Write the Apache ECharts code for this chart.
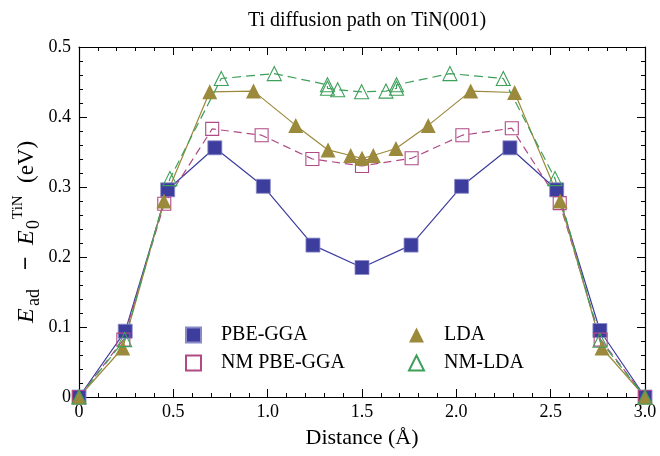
<!DOCTYPE html>
<html>
<head>
<meta charset="utf-8">
<script src="https://cdn.jsdelivr.net/npm/echarts@6/dist/echarts.min.js"></script>
<style>
  html, body { margin: 0; padding: 0; background: #fff; }
  #chart { width: 660px; height: 456px; }
</style>
</head>
<body>
<div id="chart"></div>
<script>
// values
const pbeX = [0, 0.245, 0.47, 0.72, 0.977, 1.24, 1.5, 1.76, 2.028, 2.284, 2.532, 2.761, 3.0];
const pbeY = [0, 0.094, 0.296, 0.356, 0.301, 0.217, 0.185, 0.217, 0.301, 0.356, 0.296, 0.095, 0];

const nmPbeX = [0, 0.235, 0.452, 0.706, 0.968, 1.237, 1.5, 1.763, 2.032, 2.294, 2.548, 2.765, 3.0];
const nmPbeY = [0, 0.082, 0.276, 0.383, 0.374, 0.340, 0.330, 0.341, 0.374, 0.384, 0.277, 0.082, 0];

const ldaX = [0, 0.232, 0.45, 0.693, 0.925, 1.149, 1.32, 1.44, 1.5, 1.56, 1.68, 1.851, 2.076, 2.309, 2.55, 2.772, 3.0];
const ldaY = [0, 0.070, 0.280, 0.436, 0.437, 0.388, 0.353, 0.345, 0.341, 0.345, 0.355, 0.388, 0.437, 0.435, 0.280, 0.070, 0];

const nmLdaX = [0, 0.242, 0.482, 0.754, 1.035, 1.317, 1.317, 1.371, 1.498, 1.627, 1.683, 1.683, 1.966, 2.249, 2.523, 2.761, 3.0];
const nmLdaY = [0, 0.082, 0.312, 0.455, 0.462, 0.446, 0.441, 0.439, 0.436, 0.437, 0.441, 0.446, 0.462, 0.455, 0.312, 0.081, 0];

const xTicks = { min: 0, max: 3, interval: 0.5 };
const yTicks = { min: 0, max: 0.5, interval: 0.1 };

const FONT = '"Liberation Serif", "DejaVu Serif", serif';
const BLUE = '#3d3d9e';
const MAGENTA = '#b04a85';
const OLIVE = '#9c8a3c';
const GREEN = '#3e9f5a';

const pairs = (xs, ys) => xs.map((x, i) => [x, ys[i]]);
const tickFmt = v => (v === 0 ? '0' : v.toFixed(1));

const chart = echarts.init(document.getElementById('chart'));

function axisCommon(extra) {
    return Object.assign({
        type: 'value',
        splitLine: { show: false },
        axisLine: { show: true, onZero: false, lineStyle: { color: '#000', width: 1.2 } },
        axisTick: { show: true, inside: true, length: 8, lineStyle: { color: '#000', width: 1 } },
        minorTick: { show: true, splitNumber: 5, length: 4, lineStyle: { color: '#000', width: 1 } },
        axisLabel: { show: false }
    }, extra);
}

const labelStyle = { color: '#000', fontFamily: FONT, fontSize: 18, formatter: tickFmt };
const legendText = { fontFamily: FONT, fontSize: 20, color: '#000', padding: [0, 0, 0, 15] };

const option = {
    animation: false,
    backgroundColor: '#fff',
    title: {
        text: 'Ti diffusion path on TiN(001)',
        left: 362,
        textAlign: 'center',
        top: 6,
        textStyle: { fontFamily: FONT, fontSize: 20, fontWeight: 'normal', color: '#000' }
    },
    grid: { left: 79, right: 15, top: 47, bottom: 59, containLabel: false },
    legend: [
        {
            data: [{ name: 'PBE-GGA', icon: 'rect' }, { name: 'NM PBE-GGA', icon: 'rect' }],
            orient: 'vertical', left: 185, top: 325, padding: 0,
            itemWidth: 15, itemHeight: 15, itemGap: 8, selectedMode: false,
            textStyle: legendText
        },
        {
            data: [{ name: 'LDA', icon: 'triangle' }, { name: 'NM-LDA', icon: 'triangle' }],
            orient: 'vertical', left: 408, top: 325, padding: 0,
            itemWidth: 15, itemHeight: 15, itemGap: 8, selectedMode: false,
            textStyle: legendText
        }
    ],
    xAxis: [
        axisCommon(Object.assign({}, xTicks, {
            position: 'bottom',
            axisLabel: Object.assign({ show: true, margin: 6 }, labelStyle),
            name: 'Distance (Å)',
            nameLocation: 'middle',
            nameGap: 30,
            nameTextStyle: { fontFamily: FONT, fontSize: 22, color: '#000' }
        })),
        axisCommon(Object.assign({}, xTicks, { position: 'top' }))
    ],
    yAxis: [
        axisCommon(Object.assign({}, yTicks, {
            position: 'left',
            axisLabel: Object.assign({ show: true, margin: 8 }, labelStyle)
        })),
        axisCommon(Object.assign({}, yTicks, { position: 'right' }))
    ],
    graphic: [{
        type: 'group',
        x: 27, y: 323,
        rotation: Math.PI / 2,
        children: [
            { type: 'text', style: { text: 'E', x: 0, y: 0, font: 'italic 24px ' + FONT, fill: '#000', verticalAlign: 'middle' } },
            { type: 'text', style: { text: 'ad', x: 17, y: 7, font: '18px ' + FONT, fill: '#000', verticalAlign: 'middle' } },
            { type: 'text', style: { text: '\u2212', x: 53, y: 0, font: 'bold 24px ' + FONT, fill: '#000', verticalAlign: 'middle' } },
            { type: 'text', style: { text: 'E', x: 78, y: 0, font: 'italic 24px ' + FONT, fill: '#000', verticalAlign: 'middle' } },
            { type: 'text', style: { text: '0', x: 94, y: 7, font: '18px ' + FONT, fill: '#000', verticalAlign: 'middle' } },
            { type: 'text', style: { text: 'TiN', x: 104, y: -9, font: '15px ' + FONT, fill: '#000', verticalAlign: 'middle' } },
            { type: 'text', style: { text: '(eV)', x: 140, y: 0, font: '23px ' + FONT, fill: '#000', verticalAlign: 'middle' } }
        ]
    }],
    series: [
        {
            name: 'PBE-GGA', type: 'line', data: pairs(pbeX, pbeY),
            symbol: 'rect', symbolSize: 14,
            itemStyle: { color: BLUE, borderColor: '#8a8ac8', borderWidth: 0.8 },
            lineStyle: { color: BLUE, width: 1.2 }
        },
        {
            name: 'NM PBE-GGA', type: 'line', data: pairs(nmPbeX, nmPbeY),
            symbol: 'rect', symbolSize: 13,
            itemStyle: { color: 'transparent', borderColor: MAGENTA, borderWidth: 1.1 },
            lineStyle: { color: MAGENTA, width: 1.2, type: [8, 5] }
        },
        {
            name: 'LDA', type: 'line', data: pairs(ldaX, ldaY),
            symbol: 'triangle', symbolSize: 15,
            itemStyle: { color: OLIVE },
            lineStyle: { color: OLIVE, width: 1.2 }
        },
        {
            name: 'NM-LDA', type: 'line', data: pairs(nmLdaX, nmLdaY),
            symbol: 'triangle', symbolSize: 14,
            itemStyle: { color: 'transparent', borderColor: GREEN, borderWidth: 1.1 },
            lineStyle: { color: GREEN, width: 1.2, type: [9, 5] }
        }
    ]
};

chart.setOption(option);
</script>
</body>
</html>
